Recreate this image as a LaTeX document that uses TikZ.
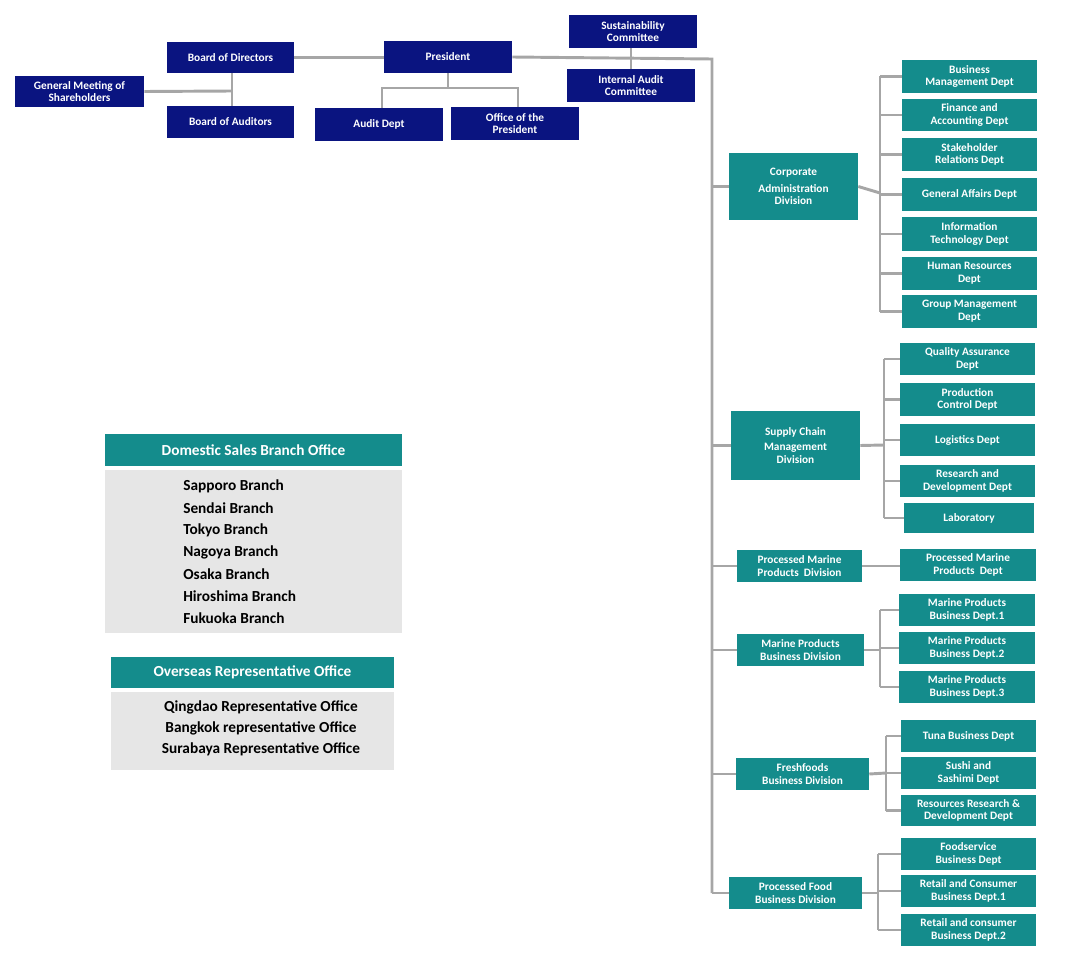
\documentclass[tikz,border=0pt]{standalone}
\usepackage{fontspec}
\setmainfont{Carlito}
\definecolor{navy}{RGB}{10,20,128}
\definecolor{teal2}{RGB}{20,140,140}
\definecolor{lgray}{RGB}{166,166,166}
\definecolor{bgray}{RGB}{230,230,230}
\newcommand\bx[7]{\node[#1,minimum width={(#5-#3)*0.75pt},minimum height={(#6-#4)*0.75pt}] (#2) at ({(#3+#5)/2},{(#4+#6)/2}) {#7};}
\begin{document}
\begin{tikzpicture}[x=0.75pt,y=-0.75pt,
 base/.style={rectangle,inner sep=1pt,text=white,align=center,font=\bfseries\fontsize{8.5}{9.5}\selectfont},
 nv/.style={base,fill=navy},
 tl/.style={base,fill=teal2},
 hd/.style={base,fill=teal2,font=\bfseries\fontsize{11.5}{13}\selectfont},
 gb/.style={rectangle,fill=bgray,inner sep=0pt},
 ln/.style={draw=lgray,line width=2.2pt},
 lt/.style={anchor=west,font=\bfseries\fontsize{11.5}{13}\selectfont,inner sep=0pt}]
\useasboundingbox (0,0) rectangle (1070,956);
% top
\bx{nv}{bod}{167}{42}{294}{73}{Board of Directors}
\bx{nv}{pres}{384}{41}{512}{73}{President}
\bx{nv}{sus}{569}{15}{697}{48}{Sustainability\\Committee}
\bx{nv}{iac}{567}{69}{695}{102}{Internal Audit\\Committee}
\bx{nv}{gm}{15}{76}{144}{107}{General Meeting of\\Shareholders}
\bx{nv}{boa}{167}{106}{294}{138}{Board of Auditors}
\bx{nv}{aud}{315}{108}{443}{141}{Audit Dept}
\bx{nv}{off}{451}{107}{579}{140}{Office of the\\President}
\coordinate (j1) at (232,91);
\coordinate (t0) at (712,59);
\coordinate (t1) at (712,893);
\draw[ln] (bod.east) -- (pres.west |- bod.east);
\draw[ln] (gm.east) -- (j1);
\draw[ln] (bod.south -| j1) -- (boa.north -| j1);
\draw[ln] (pres.south) -- (448,88);
\draw[ln] (382,108) -- (382,88) -- (518,88) -- (518,107);
\draw[ln] (pres.east) -- (t0) -- (t1);
\draw[ln] (sus.south -| 631,0) -- (iac.north -| 631,0);
% divisions
\bx{tl}{cad}{729}{153}{858}{220}{Corporate\\[3pt]Administration\\Division}
\bx{tl}{scm}{731}{411}{860}{480}{Supply Chain\\[2pt]Management\\Division}
\bx{tl}{pmd}{737}{550}{862}{582}{Processed Marine\\Products\ \ Division}
\bx{tl}{mpd}{737}{634}{864}{666}{Marine Products\\Business Division}
\bx{tl}{ffd}{736}{758}{869}{790}{Freshfoods\\Business Division}
\bx{tl}{pfd}{729}{877}{862}{909}{Processed Food\\Business Division}
\foreach \d in {cad,scm,pmd,mpd,ffd,pfd}{\draw[ln] (\d.west -| t0) -- (\d.west);}
% corporate depts
\bx{tl}{c1}{902}{60}{1037}{93}{Business\\Management Dept}
\bx{tl}{c2}{902}{99}{1037}{131}{Finance and\\Accounting Dept}
\bx{tl}{c3}{902}{138}{1037}{171}{Stakeholder\\Relations Dept}
\bx{tl}{c4}{902}{178}{1037}{211}{General Affairs Dept}
\bx{tl}{c5}{902}{217}{1037}{251}{Information\\Technology Dept}
\bx{tl}{c6}{902}{257}{1037}{290}{Human Resources\\Dept}
\bx{tl}{c7}{902}{295}{1037}{328}{Group Management\\Dept}
\draw[ln] (cad.east) -- (880,193);
\draw[ln] (c1.west -| 880,0) -- (c7.west -| 880,0);
\foreach \d in {c1,c2,c3,c4,c5,c6,c7}{\draw[ln] (\d.west -| 880,0) -- (\d.west);}
% supply chain
\bx{tl}{s1}{900}{343}{1035}{375}{Quality Assurance\\Dept}
\bx{tl}{s2}{900}{383}{1035}{416}{Production\\Control Dept}
\bx{tl}{s3}{900}{424}{1035}{456}{Logistics Dept}
\bx{tl}{s4}{900}{465}{1035}{497}{Research and\\Development Dept}
\bx{tl}{s5}{904}{503}{1034}{533}{Laboratory}
\draw[ln] (scm.east) -- (884,445);
\draw[ln] (s1.west -| 884,0) -- (s5.west -| 884,0);
\foreach \d in {s1,s2,s3,s4,s5}{\draw[ln] (\d.west -| 884,0) -- (\d.west);}
% processed marine
\bx{tl}{p1}{900}{549}{1036}{581}{Processed Marine\\Products\ \ Dept}
\draw[ln] (pmd.east) -- (p1.west |- pmd.east);
% marine
\bx{tl}{m1}{899}{594}{1035}{626}{Marine Products\\Business Dept.1}
\bx{tl}{m2}{899}{632}{1035}{664}{Marine Products\\Business Dept.2}
\bx{tl}{m3}{899}{671}{1035}{703}{Marine Products\\Business Dept.3}
\draw[ln] (mpd.east) -- (880,650);
\draw[ln] (m1.west -| 880,0) -- (m3.west -| 880,0);
\foreach \d in {m1,m2,m3}{\draw[ln] (\d.west -| 880,0) -- (\d.west);}
% freshfoods
\bx{tl}{f1}{901}{720}{1036}{752}{Tuna Business Dept}
\bx{tl}{f2}{901}{757}{1036}{789}{Sushi and\\Sashimi Dept}
\bx{tl}{f3}{901}{795}{1036}{826}{Resources Research \&\\Development Dept}
\draw[ln] (ffd.east) -- (886,773);
\draw[ln] (f1.west -| 886,0) -- (f3.west -| 886,0);
\foreach \d in {f1,f2,f3}{\draw[ln] (\d.west -| 886,0) -- (\d.west);}
% processed food
\bx{tl}{q1}{901}{838}{1036}{870}{Foodservice\\Business Dept}
\bx{tl}{q2}{901}{875}{1036}{907}{Retail and Consumer\\Business Dept.1}
\bx{tl}{q3}{901}{914}{1036}{946}{Retail and consumer\\Business Dept.2}
\draw[ln] (pfd.east) -- (878,893);
\draw[ln] (q1.west -| 878,0) -- (q3.west -| 878,0);
\foreach \d in {q1,q2,q3}{\draw[ln] (\d.west -| 878,0) -- (\d.west);}
% legends
\bx{hd}{dh}{105}{434}{402}{466}{Domestic Sales Branch Office}
\bx{gb}{db}{105}{470}{402}{633}{}
\node[lt] (b1) at (183,486) {Sapporo Branch};
\node[lt] (b2) at (183,508) {Sendai Branch};
\node[lt] (b3) at (183,530) {Tokyo Branch};
\node[lt] (b4) at (183,552) {Nagoya Branch};
\node[lt] (b5) at (183,574) {Osaka Branch};
\node[lt] (b6) at (183,596) {Hiroshima Branch};
\node[lt] (b7) at (183,618) {Fukuoka Branch};
\bx{hd}{oh}{111}{657}{394}{688}{Overseas Representative Office}
\bx{gb}{ob}{111}{692}{394}{770}{}
\node[lt,anchor=center] (o1) at (261,707) {Qingdao Representative Office};
\node[lt,anchor=center] (o2) at (261,728) {Bangkok representative Office};
\node[lt,anchor=center] (o3) at (261,749) {Surabaya Representative Office};
\end{tikzpicture}
\end{document}
